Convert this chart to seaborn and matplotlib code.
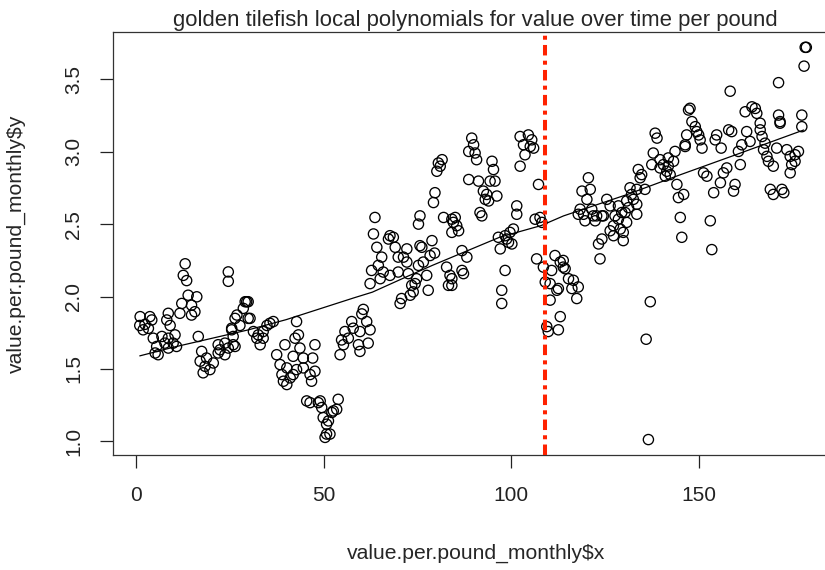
import numpy as np
import pandas as pd
import matplotlib
matplotlib.use("Agg")
import matplotlib.pyplot as plt
import seaborn as sns

# ------------------------------------------------------------------
# data (x = month index, y = $/lb)
# ------------------------------------------------------------------
x_early = [13.1, 12.6, 13.5, 24.6, 24.6, 13.9, 16.2, 12.2, 14.8, 15.7, 11.7, 14.8,
           8.6, 8.2, 9.1, 1.1, 3.7, 1.0, 2.4, 4.2, 1.9, 3.3, 4.6, 6.9, 5.5, 7.7, 5.1, 5.9,
           8.6, 10.4, 10.8, 9.9, 8.6, 16.6, 17.5, 18.8, 17.1, 20.6, 18.4, 19.7, 17.9,
           21.9, 23.7, 22.4, 24.6, 23.7, 21.9, 25.9, 25.5, 26.4]
y_early = [2.226, 2.146, 2.110, 2.170, 2.105, 2.009, 1.998, 1.952, 1.940, 1.895, 1.884, 1.872,
           1.884, 1.838, 1.800, 1.861, 1.861, 1.800, 1.808, 1.838, 1.770, 1.780, 1.712, 1.724,
           1.655, 1.678, 1.610, 1.598, 1.712, 1.735, 1.655, 1.678, 1.644, 1.724, 1.621, 1.575,
           1.553, 1.541, 1.518, 1.495, 1.473, 1.667, 1.678, 1.632, 1.644, 1.598, 1.610, 1.724,
           1.781, 1.849]

x_dip = [29.5, 29.1, 29.9, 28.6, 26.9, 27.7, 29.9, 30.4, 25.5, 25.9, 26.4,
         31.3, 32.2, 33.1, 33.9, 34.9, 35.7, 36.6, 33.9, 32.6, 42.8,
         43.3, 42.4, 39.7, 43.7, 47.7, 47.1, 44.6, 41.9,
         37.5, 38.4, 40.2, 38.9, 41.1, 41.9, 44.6, 46.4, 47.7, 40.2, 39.3, 46.8, 42.8,
         45.5, 46.4, 49.1, 49.5, 49.9, 50.8, 50.8, 48.6, 51.3, 51.7, 50.4, 52.2, 53.5, 53.9, 52.6,
         60.6, 57.5, 55.7, 54.8, 54.4, 57.9, 59.7, 61.5, 62.4, 61.9, 59.7, 59.3, 56.6, 55.3, 60.2]
y_dip = [1.964, 1.964, 1.964, 1.918, 1.872, 1.800, 1.849, 1.849, 1.770, 1.667, 1.655,
         1.758, 1.712, 1.667, 1.758, 1.800, 1.815, 1.827, 1.712, 1.735, 1.827,
         1.735, 1.712, 1.667, 1.644, 1.667, 1.575, 1.575, 1.587,
         1.598, 1.530, 1.507, 1.461, 1.438, 1.461, 1.507, 1.461, 1.484, 1.392, 1.415, 1.415, 1.495,
         1.279, 1.267, 1.279, 1.233, 1.164, 1.118, 1.050, 1.267, 1.141, 1.050, 1.027, 1.199, 1.221,
         1.290, 1.210,
         1.911, 1.827, 1.758, 1.700, 1.598, 1.781, 1.758, 1.827, 1.770, 1.678, 1.621, 1.667, 1.712,
         1.667, 1.880]

x_rise = [80.6, 81.1, 80.2, 81.6, 79.7, 79.3, 75.7, 75.3, 82.0, 84.2, 84.2, 63.7, 63.3,
          67.7, 68.6, 67.3, 69.1, 72.2, 76.2, 78.9, 78.4, 76.6, 75.3, 72.2, 71.3, 69.9, 65.5,
          64.2, 64.6, 62.8, 62.4, 65.9, 69.9, 72.6, 73.5, 77.5, 77.9, 73.1, 70.8, 70.4, 82.8,
          83.7, 83.3, 65.1, 67.7, 74.8, 73.9, 75.7, 79.6, 74.4]
y_rise = [2.922, 2.900, 2.865, 2.945, 2.717, 2.649, 2.557, 2.500, 2.546, 2.534, 2.443, 2.546,
          2.432, 2.420, 2.409, 2.397, 2.340, 2.329, 2.340, 2.386, 2.283, 2.238, 2.215, 2.238,
          2.272, 2.272, 2.272, 2.340, 2.215, 2.180, 2.089, 2.169, 2.169, 2.158, 2.077, 2.146,
          2.043, 2.009, 1.986, 1.952, 2.203, 2.146, 2.077, 2.123, 2.146, 2.123, 2.032, 2.351,
          2.300, 2.089]

x_peak = [89.5, 90.0, 88.7, 90.4, 90.8, 94.9, 95.3, 95.7, 94.4, 91.3, 88.7, 92.6, 93.5, 96.2,
          93.1, 94.0, 91.7, 92.2, 101.5, 101.5, 102.4, 104.6, 105.5, 103.3, 105.1, 103.7, 102.4,
          106.0, 107.3, 106.4, 107.7, 108.2, 96.6, 98.4, 99.7, 100.6, 99.3, 100.2, 97.1, 98.8,
          98.4, 97.5, 97.5, 85.1, 85.5, 86.0, 84.6, 86.9, 88.2, 86.9, 87.3, 84.2, 84.2,
          106.8, 108.6, 111.7, 113.1, 113.9, 110.8, 109.1, 110.4, 112.2, 110.4, 113.1, 109.5,
          112.6, 109.9, 113.9, 114.4, 115.3, 116.6, 117.9, 116.2, 117.5, 112.6]
y_peak = [3.094, 3.048, 3.002, 2.991, 2.945, 2.934, 2.877, 2.797, 2.797, 2.797, 2.808, 2.728,
          2.705, 2.694, 2.671, 2.660, 2.580, 2.557, 2.626, 2.568, 3.105, 3.116, 3.082, 3.048,
          3.036, 2.979, 2.900, 3.025, 2.774, 2.534, 2.546, 2.512, 2.409, 2.420, 2.443, 2.466,
          2.374, 2.363, 2.329, 2.397, 2.180, 2.043, 1.952, 2.546, 2.489, 2.454, 2.512, 2.317,
          2.272, 2.180, 2.158, 2.123, 2.077,
          2.260, 2.203, 2.283, 2.238, 2.203, 2.180, 2.100, 2.089, 2.043, 1.975, 1.861, 1.792,
          1.770, 1.758, 2.249, 2.192, 2.123, 2.112, 2.066, 2.055, 1.986, 2.055]

x_late = [133.9, 134.8, 134.4, 138.4, 138.9, 137.9, 139.7, 140.6, 141.9, 141.5, 142.4, 141.1,
          143.7, 143.3, 141.9, 137.5, 139.7, 146.4, 146.8, 147.3, 144.2, 144.6, 146.0, 145.1,
          145.5, 135.7, 133.5, 131.7, 132.1, 132.6, 130.8, 133.5, 131.3, 133.5,
          120.6, 118.9, 121.1, 120.2, 118.4, 119.3, 117.9, 121.5, 121.9, 122.4, 119.7, 124.6,
          125.5, 126.4, 128.6, 127.7, 129.5, 128.6, 127.3, 129.1, 129.9, 126.4, 127.3, 124.2,
          123.3, 123.7, 129.9, 130.4, 130.8, 122.8, 124.2,
          147.7, 148.2, 149.1, 149.5, 150.0, 150.4, 150.9, 137.1, 136.0, 136.6]
y_late = [2.877, 2.842, 2.820, 3.128, 3.094, 2.991, 2.945, 2.911, 2.900, 2.865, 2.842, 2.831,
          3.002, 2.934, 2.957, 2.911, 2.888, 3.048, 3.116, 3.288, 2.774, 2.683, 2.705, 2.546,
          2.409, 2.740, 2.740, 2.751, 2.705, 2.671, 2.660, 2.637, 2.614, 2.568,
          2.820, 2.728, 2.740, 2.671, 2.603, 2.568, 2.568, 2.603, 2.557, 2.523, 2.523, 2.557,
          2.671, 2.626, 2.626, 2.557, 2.580, 2.534, 2.489, 2.466, 2.443, 2.454, 2.420, 2.397,
          2.363, 2.260, 2.386, 2.580, 2.512, 2.557, 2.557,
          3.300, 3.208, 3.173, 3.139, 3.116, 3.082, 3.025, 1.964, 1.705, 1.012]

x_end = [153.1, 153.5, 146.4, 154.8, 154.4, 156.0, 158.0, 158.8, 158.4, 151.3, 152.2, 154.0,
         156.6, 157.5, 155.8, 159.7, 159.3, 160.6, 161.5, 161.1, 162.8, 163.7, 162.4, 164.2,
         165.1, 165.5, 166.4, 166.4, 166.9, 167.7, 167.3, 168.2, 168.6, 169.9, 170.8, 171.7,
         171.3, 169.1, 169.9, 172.2, 172.7, 173.5, 174.4, 174.8, 174.4, 175.7, 176.6, 175.7,
         177.5, 177.5, 171.3, 178.1, 178.4, 178.7, 171.7]
y_end = [2.523, 2.324, 3.036, 3.116, 3.082, 3.025, 3.151, 3.139, 3.418, 2.854, 2.831, 2.717,
         2.854, 2.888, 2.786, 2.774, 2.728, 3.002, 3.048, 2.911, 3.139, 3.071, 3.276, 3.310,
         3.299, 3.265, 3.197, 3.151, 3.105, 3.059, 3.014, 2.968, 2.934, 2.900, 3.025, 3.197,
         3.253, 2.740, 2.705, 2.740, 2.717, 3.014, 2.968, 2.911, 2.854, 2.979, 3.002, 2.934,
         3.253, 3.173, 3.477, 3.591, 3.721, 3.721, 3.208]

# local polynomial fit
smooth_x = [1, 10, 20, 30, 40, 52, 58, 63, 72, 79, 85, 97, 108, 114, 131, 145, 160, 178]
smooth_y = [1.59, 1.65, 1.71, 1.77, 1.84, 1.94, 1.99, 2.03, 2.135, 2.215, 2.28, 2.41,
            2.49, 2.557, 2.705, 2.84, 2.98, 3.15]

cutoff_x = 109

df = pd.DataFrame({
    "x": x_early + x_dip + x_rise + x_peak + x_late + x_end,
    "y": y_early + y_dip + y_rise + y_peak + y_late + y_end,
})

# ------------------------------------------------------------------
# plot, base-R look
# ------------------------------------------------------------------
sns.set_style("ticks")
plt.rcParams["font.family"] = ["Liberation Sans", "DejaVu Sans"]
plt.rcParams["font.size"] = 15

fig = plt.figure(figsize=(8.25, 5.7), dpi=100)
ax = fig.add_axes([0.137, 0.2014, 0.879, 0.743])

sns.scatterplot(data=df, x="x", y="y", ax=ax, marker="o", s=54,
                facecolors="none", edgecolor="black", linewidth=0.95, zorder=3)
sns.lineplot(x=smooth_x, y=smooth_y, ax=ax, color="black", lw=0.9,
             estimator=None, sort=True, zorder=4)
ax.axvline(cutoff_x, color="#ff2200", lw=2.9, linestyle=(0, (2.6, 1.3, 1.0, 1.3)),
           dash_capstyle="butt", zorder=5)

ax.set_xlim(-6.13, 187.2)
ax.set_ylim(0.904, 3.829)
ax.set_xticks([0, 50, 100, 150])
ax.set_yticks([1.0, 1.5, 2.0, 2.5, 3.0, 3.5])
ax.set_yticklabels(["1.0", "1.5", "2.0", "2.5", "3.0", "3.5"])
ax.tick_params(direction="out", length=9.4, width=0.9, pad=12, labelsize=15, colors="#222222")
ax.tick_params(axis="x", pad=13)
plt.setp(ax.get_yticklabels(), rotation=90, va="center")
for sp in ax.spines.values():
    sp.set_linewidth(0.9)
    sp.set_color("#333333")

ax.set_title("golden tilefish local polynomials for value over time per pound",
             fontsize=15.9, pad=4)
ax.set_xlabel("value.per.pound_monthly$x", fontsize=15.2)
ax.set_ylabel("value.per.pound_monthly$y", fontsize=15.2)
ax.xaxis.set_label_coords(0.5, -0.21)
ax.yaxis.set_label_coords(-0.12, 0.5)

fig.savefig("out.png", dpi=100)
